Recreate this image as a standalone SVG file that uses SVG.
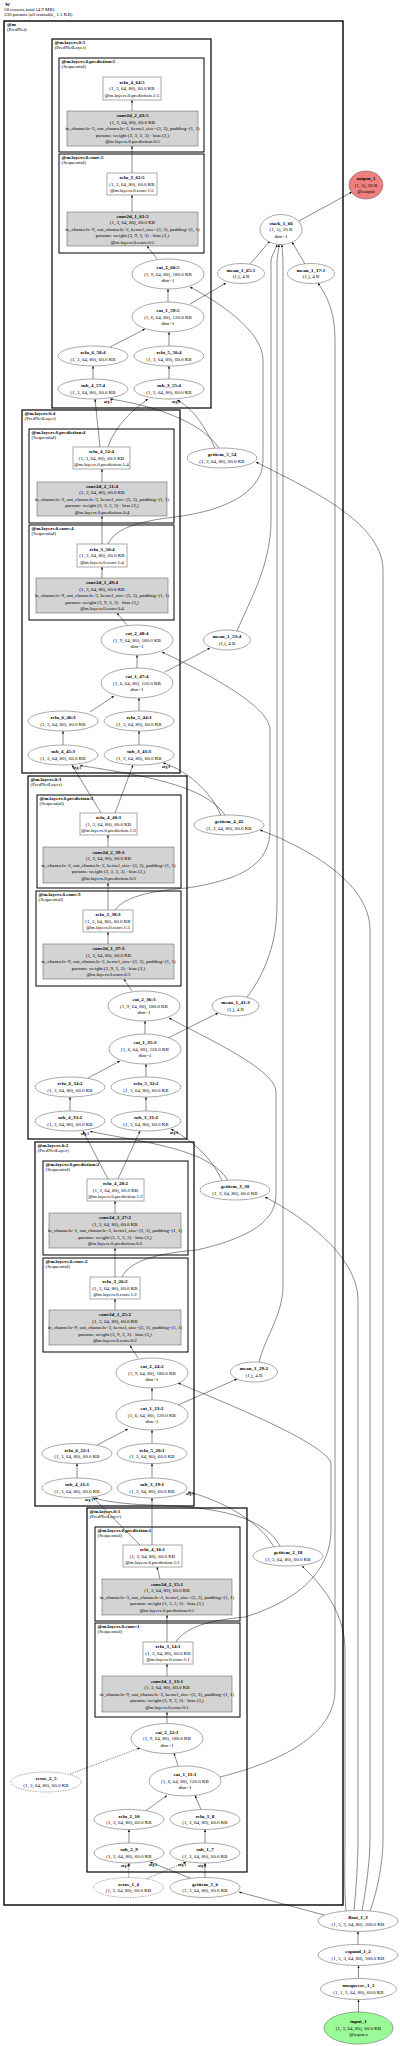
<svg xmlns="http://www.w3.org/2000/svg" width="400" height="2046" viewBox="0 0 400 2046">
<defs>
<marker id="a" viewBox="0 0 10 10" refX="10" refY="5" markerWidth="2.6" markerHeight="2.6" markerUnits="userSpaceOnUse" orient="auto"><path d="M0,1 L10,5 L0,9 z" fill="#000"/></marker>
<style>
text{font-family:"Liberation Serif",serif;font-size:5px;fill:#000}
.t{text-anchor:middle;dominant-baseline:central}
.b{font-weight:bold}
.c{dominant-baseline:central}
.cl{fill:none;stroke:#000}
.l1{stroke-width:1.4}.l2{stroke-width:1.2}.l3{stroke-width:1}
.n ellipse,.n rect{fill:#fff;stroke:#555;stroke-width:0.5}
.n.g rect{fill:#d3d3d3}
.n.d ellipse{stroke-dasharray:1.5,1}
.e path{fill:none;stroke:#000;stroke-width:0.45;marker-end:url(#a)}
.e path.d{stroke-dasharray:1.5,1}
.lb{font-size:3.6px;font-weight:bold;text-anchor:middle;dominant-baseline:central}
</style>
</defs>
<rect width="400" height="2046" fill="#fff"/>
<g id="header">
<text class="c b" x="5" y="4">W</text>
<text class="c" x="4" y="9.3">58 tensors total (4.9 MB)</text>
<text class="c" x="4" y="14">330 params (all trainable, 1.3 KB)</text>
</g>
<g id="clusters">
<rect class="cl l1" x="4" y="21" width="339" height="1884"/>
<text class="c b" x="7" y="24">@m</text><text class="c" x="7" y="29">(PredNet)</text>
<rect class="cl l2" x="52" y="39" width="159" height="369"/>
<text class="c b" x="54.5" y="42.5">@m.layers.0:5</text><text class="c" x="54.5" y="47.5">(PredNetLayer)</text>
<rect class="cl l3" x="59" y="58" width="145" height="94"/>
<text class="c b" x="61.5" y="61.5">@m.layers.0.prediction:5</text><text class="c" x="61.5" y="66.5">(Sequential)</text>
<rect class="cl l3" x="59" y="154" width="145" height="99"/>
<text class="c b" x="61.5" y="157.5">@m.layers.0.conv:5</text><text class="c" x="61.5" y="162.5">(Sequential)</text>
<rect class="cl l2" x="22" y="410" width="158" height="363"/>
<text class="c b" x="24.5" y="413.5">@m.layers.0:4</text><text class="c" x="24.5" y="418.5">(PredNetLayer)</text>
<rect class="cl l3" x="29" y="429" width="145" height="94"/>
<text class="c b" x="31.5" y="432.5">@m.layers.0.prediction:4</text><text class="c" x="31.5" y="437.5">(Sequential)</text>
<rect class="cl l3" x="29" y="525" width="145" height="95"/>
<text class="c b" x="31.5" y="528.5">@m.layers.0.conv:4</text><text class="c" x="31.5" y="533.5">(Sequential)</text>
<rect class="cl l2" x="28" y="776" width="159" height="363"/>
<text class="c b" x="30.5" y="779.5">@m.layers.0:3</text><text class="c" x="30.5" y="784.5">(PredNetLayer)</text>
<rect class="cl l3" x="37" y="795" width="144" height="93"/>
<text class="c b" x="39.5" y="798.5">@m.layers.0.prediction:3</text><text class="c" x="39.5" y="803.5">(Sequential)</text>
<rect class="cl l3" x="36" y="891" width="145" height="95"/>
<text class="c b" x="38.5" y="894.5">@m.layers.0.conv:3</text><text class="c" x="38.5" y="899.5">(Sequential)</text>
<rect class="cl l2" x="35" y="1142" width="159" height="364"/>
<text class="c b" x="37.5" y="1145.5">@m.layers.0:2</text><text class="c" x="37.5" y="1150.5">(PredNetLayer)</text>
<rect class="cl l3" x="43" y="1161" width="145" height="94"/>
<text class="c b" x="45.5" y="1164.5">@m.layers.0.prediction:2</text><text class="c" x="45.5" y="1169.5">(Sequential)</text>
<rect class="cl l3" x="43" y="1258" width="145" height="94"/>
<text class="c b" x="45.5" y="1261.5">@m.layers.0.conv:2</text><text class="c" x="45.5" y="1266.5">(Sequential)</text>
<rect class="cl l2" x="87" y="1508" width="160" height="364"/>
<text class="c b" x="89.5" y="1511.5">@m.layers.0:1</text><text class="c" x="89.5" y="1516.5">(PredNetLayer)</text>
<rect class="cl l3" x="95" y="1527" width="145" height="94"/>
<text class="c b" x="97.5" y="1530.5">@m.layers.0.prediction:1</text><text class="c" x="97.5" y="1535.5">(Sequential)</text>
<rect class="cl l3" x="95" y="1623" width="145" height="94"/>
<text class="c b" x="97.5" y="1626.5">@m.layers.0.conv:1</text><text class="c" x="97.5" y="1631.5">(Sequential)</text>
</g>
<g id="edges" class="e">
<path d="M358.5,2012 L358.5,1999.5"/>
<path d="M358.5,1978.5 L358.5,1965.5"/>
<path d="M358,1944.5 L358,1931.5"/>
<path d="M324,1915 L239,1892"/>
<path d="M346,1911 C344,1890 345,1860 345,1840 L345,1650 C345,1620 330,1592 302,1566"/>
<path d="M354,1910.5 C356,1890 358,1860 358,1840 L358,1300 C358,1255 300,1215 265,1197"/>
<path d="M362,1910.5 C366,1890 370,1860 370,1840 L370,930 C370,880 300,845 260,830"/>
<path d="M370,1911 C378,1890 383,1860 383,1840 L383,570 C383,520 300,485 256,462"/>
<path d="M205,1877.5 L205,1863"/>
<path d="M191,1878.5 L150,1862"/>
<path class="d" d="M128.5,1877.5 L129,1863"/>
<path class="d" d="M146,1879 L186,1862"/>
<path d="M205,1843 L205,1829.5"/>
<path d="M129,1843 L129,1829.5"/>
<path d="M146,1810.5 L167,1795.5"/>
<path d="M201,1809.5 L195,1795.5"/>
<path d="M178,1766 L174,1753"/>
<path class="d" d="M70,1774 L140,1748"/>
<path d="M220,1777 C280,1762 335,1735 335,1690 L335,340 C335,310 326,295 318,283"/>
<path d="M167,1723.5 L167,1712"/>
<path d="M167,1676 L167,1664"/>
<path d="M167,1642 L167,1615"/>
<path d="M160,1579 L157,1567"/>
<path d="M176,1642 C186,1626 212,1620 245,1617 C300,1600 331,1570 331,1530 L331,1462 C318,1440 230,1405 178,1383"/>
<path d="M152,1545 L152,1498"/>
<path d="M140,1545 L93,1497.5"/>
<path d="M274,1547 C260,1522 222,1500 188,1492"/>
<path d="M280,1546 C262,1512 200,1506 150,1505 C122,1504 104,1501 95,1498"/>
<path d="M152,1478 L152,1463.5"/>
<path d="M77,1478 L77,1463.5"/>
<path d="M97,1445 L128,1429"/>
<path d="M152,1443.5 L152,1430"/>
<path d="M152,1400 L152,1388"/>
<path d="M178,1405 L237,1379"/>
<path d="M259,1362 C266,1335 283,1315 283,1285 L283,262 C283,255 282,250 282,244.5"/>
<path d="M138,1358 L130,1345.5"/>
<path d="M115,1310 L115,1299"/>
<path d="M115,1277 L115,1248"/>
<path d="M115,1213 L115,1201"/>
<path d="M122,1277 C130,1260 160,1253 197,1250 C240,1240 276,1225 276,1195 L276,1092 C276,1070 210,1040 169,1018"/>
<path d="M118,1179 L140,1131"/>
<path d="M108,1179 L83,1131"/>
<path d="M222,1180.5 C212,1158 192,1140 171,1129"/>
<path d="M228,1180.5 C210,1150 150,1143 90,1131.5"/>
<path d="M146,1111 L146,1097"/>
<path d="M70,1111 L70,1097"/>
<path d="M88,1078 L120,1061"/>
<path d="M146,1077 L146,1064"/>
<path d="M145,1034 L145,1021"/>
<path d="M168,1038 L218,1013"/>
<path d="M247,997 C260,980 277,950 277,905 L277,262 C277,255 279,250 279,244.5"/>
<path d="M132,991 L124,979"/>
<path d="M108,944 L108,932"/>
<path d="M108,910 L108,883"/>
<path d="M108,847 L108,835"/>
<path d="M115,910 C125,895 160,890 187,888 C240,880 270,865 270,830 L270,730 C270,705 200,670 162,652"/>
<path d="M115,813 L133,765"/>
<path d="M101,813 L72,765"/>
<path d="M221,815.5 C210,790 186,770 163,763"/>
<path d="M225,815 C205,785 140,775 80,765.5"/>
<path d="M139,745 L139,731"/>
<path d="M63,745 L63,731"/>
<path d="M90,712 L114,696"/>
<path d="M139,711 L139,698"/>
<path d="M137,668 L137,655"/>
<path d="M165,672 L210,648"/>
<path d="M237,631 C250,600 271,565 271,520 L271,262 C271,255 276,250 277,244.5"/>
<path d="M127,625 L117,613"/>
<path d="M102,578 L102,567"/>
<path d="M102,544 L102,516"/>
<path d="M102,482 L102,469"/>
<path d="M108,544 C115,528 140,521 175,517 C230,510 263,490 263,460 L263,360 C263,330 215,300 190,287"/>
<path d="M108,447 C115,425 135,408 148,399"/>
<path d="M100,447 L95,399"/>
<path d="M215,448.5 C205,425 190,406 177,400"/>
<path d="M219,448 C200,420 150,405 110,399"/>
<path d="M169,379 L169,366"/>
<path d="M93,379 L93,366"/>
<path d="M110,347 L145,329"/>
<path d="M169,346 L169,332"/>
<path d="M168,302 L168,289"/>
<path d="M190,304 L226,283"/>
<path d="M157,259 L147,246"/>
<path d="M132,212 L132,195"/>
<path d="M132,173 L132,146"/>
<path d="M132,111 L132,100"/>
<path d="M250,264 L270,241"/>
<path d="M305,264 L292,242"/>
<path d="M299,221 L352,192"/>
<text class="lb" x="108" y="402">arg 1</text>
<text class="lb" x="176" y="402">arg 0</text>
<text class="lb" x="77" y="767.5">arg 1</text>
<text class="lb" x="166" y="766.5">arg 0</text>
<text class="lb" x="85" y="1133.5">arg 1</text>
<text class="lb" x="174" y="1132.5">arg 0</text>
<text class="lb" x="89" y="1499.5">arg 1</text>
<text class="lb" x="190" y="1493.5">arg 0</text>
<text class="lb" x="125" y="1866">arg 0</text>
<text class="lb" x="153" y="1864.5">arg 1</text>
<text class="lb" x="182" y="1864.5">arg 1</text>
<text class="lb" x="202" y="1866">arg 0</text>
</g>
<g id="n_output_1" class="n"><ellipse cx="366" cy="185" rx="17" ry="14" style="fill:#f08080"/><text class="t b" x="366" y="178.5">output_1</text><text class="t" x="366" y="185">(1, 5), 20 B</text><text class="t" x="366" y="191.5">@output</text></g>
<g id="n_stack_1_66" class="n"><ellipse cx="281" cy="229.5" rx="21" ry="15"/><text class="t b" x="281" y="223">stack_1_66</text><text class="t" x="281" y="229.5">(1, 5), 20 B</text><text class="t" x="281" y="236">dim=1</text></g>
<g id="n_relu_4_64_5" class="n"><rect x="103" y="77" width="58" height="23"/><text class="t b" x="132" y="82">relu_4_64:5</text><text class="t" x="132" y="88.5">(1, 3, 64, 80), 60.0 KB</text><text class="t" x="132" y="95">@m.layers.0.prediction.1:5</text></g>
<g id="n_conv2d_2_63_5" class="n g"><rect x="67" y="111" width="131" height="35"/><text class="t b" x="132.5" y="115.5">conv2d_2_63:5</text><text class="t" x="132.5" y="122">(1, 3, 64, 80), 60.0 KB</text><text class="t" x="132.5" y="128.5">in_channels=3, out_channels=3, kernel_size=(3, 3), padding=(1, 1)</text><text class="t" x="132.5" y="135">params: weight (3, 3, 3, 3) · bias (3,)</text><text class="t" x="132.5" y="141.5">@m.layers.0.prediction.0:5</text></g>
<g id="n_relu_3_62_5" class="n"><rect x="107" y="173" width="50" height="22"/><text class="t b" x="132" y="177.5">relu_3_62:5</text><text class="t" x="132" y="184">(1, 3, 64, 80), 60.0 KB</text><text class="t" x="132" y="190.5">@m.layers.0.conv.1:5</text></g>
<g id="n_conv2d_1_61_5" class="n g"><rect x="67" y="212" width="131" height="34"/><text class="t b" x="132.5" y="216">conv2d_1_61:5</text><text class="t" x="132.5" y="222.5">(1, 3, 64, 80), 60.0 KB</text><text class="t" x="132.5" y="229">in_channels=9, out_channels=3, kernel_size=(3, 3), padding=(1, 1)</text><text class="t" x="132.5" y="235.5">params: weight (3, 9, 3, 3) · bias (3,)</text><text class="t" x="132.5" y="242">@m.layers.0.conv.0:5</text></g>
<g id="n_cat_2_60_5" class="n"><ellipse cx="168" cy="274" rx="36" ry="15"/><text class="t b" x="168" y="267.5">cat_2_60:5</text><text class="t" x="168" y="274">(1, 9, 64, 80), 180.0 KB</text><text class="t" x="168" y="280.5">dim=1</text></g>
<g id="n_mean_1_65_5" class="n"><ellipse cx="241" cy="273.5" rx="23.5" ry="10"/><text class="t b" x="241" y="270.3">mean_1_65:5</text><text class="t" x="241" y="276.8">(1,), 4 B</text></g>
<g id="n_mean_1_17_1" class="n"><ellipse cx="311" cy="273.5" rx="23.5" ry="10"/><text class="t b" x="311" y="270.3">mean_1_17:1</text><text class="t" x="311" y="276.8">(1,), 4 B</text></g>
<g id="n_cat_1_59_5" class="n"><ellipse cx="168" cy="317" rx="36" ry="15"/><text class="t b" x="168" y="310.5">cat_1_59:5</text><text class="t" x="168" y="317">(1, 6, 64, 80), 120.0 KB</text><text class="t" x="168" y="323.5">dim=1</text></g>
<g id="n_relu_6_58_4" class="n"><ellipse cx="93" cy="356" rx="35" ry="10"/><text class="t b" x="93" y="352.8">relu_6_58:4</text><text class="t" x="93" y="359.3">(1, 3, 64, 80), 60.0 KB</text></g>
<g id="n_relu_5_56_4" class="n"><ellipse cx="169" cy="356" rx="35" ry="10"/><text class="t b" x="169" y="352.8">relu_5_56:4</text><text class="t" x="169" y="359.3">(1, 3, 64, 80), 60.0 KB</text></g>
<g id="n_sub_4_57_4" class="n"><ellipse cx="93" cy="389" rx="35" ry="10"/><text class="t b" x="93" y="385.8">sub_4_57:4</text><text class="t" x="93" y="392.3">(1, 3, 64, 80), 60.0 KB</text></g>
<g id="n_sub_3_55_4" class="n"><ellipse cx="169" cy="389" rx="35" ry="10"/><text class="t b" x="169" y="385.8">sub_3_55:4</text><text class="t" x="169" y="392.3">(1, 3, 64, 80), 60.0 KB</text></g>
<g id="n_getitem_5_54" class="n"><ellipse cx="222" cy="458" rx="35" ry="10"/><text class="t b" x="222" y="454.8">getitem_5_54</text><text class="t" x="222" y="461.3">(1, 3, 64, 80), 60.0 KB</text></g>
<g id="n_relu_4_52_4" class="n"><rect x="73" y="447" width="57" height="22"/><text class="t b" x="101.5" y="451.5">relu_4_52:4</text><text class="t" x="101.5" y="458">(1, 3, 64, 80), 60.0 KB</text><text class="t" x="101.5" y="464.5">@m.layers.0.prediction.1:4</text></g>
<g id="n_conv2d_2_51_4" class="n g"><rect x="37" y="482" width="130" height="34"/><text class="t b" x="102" y="486">conv2d_2_51:4</text><text class="t" x="102" y="492.5">(1, 3, 64, 80), 60.0 KB</text><text class="t" x="102" y="499">in_channels=3, out_channels=3, kernel_size=(3, 3), padding=(1, 1)</text><text class="t" x="102" y="505.5">params: weight (3, 3, 3, 3) · bias (3,)</text><text class="t" x="102" y="512">@m.layers.0.prediction.0:4</text></g>
<g id="n_relu_3_50_4" class="n"><rect x="77" y="544" width="50" height="23"/><text class="t b" x="102" y="549">relu_3_50:4</text><text class="t" x="102" y="555.5">(1, 3, 64, 80), 60.0 KB</text><text class="t" x="102" y="562">@m.layers.0.conv.1:4</text></g>
<g id="n_conv2d_1_49_4" class="n g"><rect x="36" y="578" width="132" height="35"/><text class="t b" x="102" y="582.5">conv2d_1_49:4</text><text class="t" x="102" y="589">(1, 3, 64, 80), 60.0 KB</text><text class="t" x="102" y="595.5">in_channels=9, out_channels=3, kernel_size=(3, 3), padding=(1, 1)</text><text class="t" x="102" y="602">params: weight (3, 9, 3, 3) · bias (3,)</text><text class="t" x="102" y="608.5">@m.layers.0.conv.0:4</text></g>
<g id="n_cat_2_48_4" class="n"><ellipse cx="137" cy="640" rx="36" ry="15"/><text class="t b" x="137" y="633.5">cat_2_48:4</text><text class="t" x="137" y="640">(1, 9, 64, 80), 180.0 KB</text><text class="t" x="137" y="646.5">dim=1</text></g>
<g id="n_mean_1_53_4" class="n"><ellipse cx="227" cy="640" rx="23.5" ry="10"/><text class="t b" x="227" y="636.8">mean_1_53:4</text><text class="t" x="227" y="643.3">(1,), 4 B</text></g>
<g id="n_cat_1_47_4" class="n"><ellipse cx="137" cy="683" rx="36" ry="15"/><text class="t b" x="137" y="676.5">cat_1_47:4</text><text class="t" x="137" y="683">(1, 6, 64, 80), 120.0 KB</text><text class="t" x="137" y="689.5">dim=1</text></g>
<g id="n_relu_6_46_3" class="n"><ellipse cx="63" cy="721" rx="35" ry="10"/><text class="t b" x="63" y="717.8">relu_6_46:3</text><text class="t" x="63" y="724.3">(1, 3, 64, 80), 60.0 KB</text></g>
<g id="n_relu_5_44_3" class="n"><ellipse cx="139" cy="721" rx="35" ry="10"/><text class="t b" x="139" y="717.8">relu_5_44:3</text><text class="t" x="139" y="724.3">(1, 3, 64, 80), 60.0 KB</text></g>
<g id="n_sub_4_45_3" class="n"><ellipse cx="63" cy="755" rx="35" ry="10"/><text class="t b" x="63" y="751.8">sub_4_45:3</text><text class="t" x="63" y="758.3">(1, 3, 64, 80), 60.0 KB</text></g>
<g id="n_sub_3_43_3" class="n"><ellipse cx="139" cy="755" rx="35" ry="10"/><text class="t b" x="139" y="751.8">sub_3_43:3</text><text class="t" x="139" y="758.3">(1, 3, 64, 80), 60.0 KB</text></g>
<g id="n_getitem_4_42" class="n"><ellipse cx="229" cy="825" rx="35" ry="10"/><text class="t b" x="229" y="821.8">getitem_4_42</text><text class="t" x="229" y="828.3">(1, 3, 64, 80), 60.0 KB</text></g>
<g id="n_relu_4_40_3" class="n"><rect x="80" y="813" width="57" height="22"/><text class="t b" x="108.5" y="817.5">relu_4_40:3</text><text class="t" x="108.5" y="824">(1, 3, 64, 80), 60.0 KB</text><text class="t" x="108.5" y="830.5">@m.layers.0.prediction.1:3</text></g>
<g id="n_conv2d_2_39_3" class="n g"><rect x="43" y="847" width="131" height="36"/><text class="t b" x="108.5" y="852">conv2d_2_39:3</text><text class="t" x="108.5" y="858.5">(1, 3, 64, 80), 60.0 KB</text><text class="t" x="108.5" y="865">in_channels=3, out_channels=3, kernel_size=(3, 3), padding=(1, 1)</text><text class="t" x="108.5" y="871.5">params: weight (3, 3, 3, 3) · bias (3,)</text><text class="t" x="108.5" y="878">@m.layers.0.prediction.0:3</text></g>
<g id="n_relu_3_38_3" class="n"><rect x="83" y="910" width="50" height="22"/><text class="t b" x="108" y="914.5">relu_3_38:3</text><text class="t" x="108" y="921">(1, 3, 64, 80), 60.0 KB</text><text class="t" x="108" y="927.5">@m.layers.0.conv.1:3</text></g>
<g id="n_conv2d_1_37_3" class="n g"><rect x="43" y="944" width="131" height="35"/><text class="t b" x="108.5" y="948.5">conv2d_1_37:3</text><text class="t" x="108.5" y="955">(1, 3, 64, 80), 60.0 KB</text><text class="t" x="108.5" y="961.5">in_channels=9, out_channels=3, kernel_size=(3, 3), padding=(1, 1)</text><text class="t" x="108.5" y="968">params: weight (3, 9, 3, 3) · bias (3,)</text><text class="t" x="108.5" y="974.5">@m.layers.0.conv.0:3</text></g>
<g id="n_cat_2_36_3" class="n"><ellipse cx="144" cy="1006" rx="36" ry="15"/><text class="t b" x="144" y="999.5">cat_2_36:3</text><text class="t" x="144" y="1006">(1, 9, 64, 80), 180.0 KB</text><text class="t" x="144" y="1012.5">dim=1</text></g>
<g id="n_mean_1_41_3" class="n"><ellipse cx="235.5" cy="1006" rx="23.5" ry="10"/><text class="t b" x="235.5" y="1002.8">mean_1_41:3</text><text class="t" x="235.5" y="1009.3">(1,), 4 B</text></g>
<g id="n_cat_1_35_3" class="n"><ellipse cx="145" cy="1049" rx="36" ry="15"/><text class="t b" x="145" y="1042.5">cat_1_35:3</text><text class="t" x="145" y="1049">(1, 6, 64, 80), 120.0 KB</text><text class="t" x="145" y="1055.5">dim=1</text></g>
<g id="n_relu_6_34_2" class="n"><ellipse cx="70" cy="1087" rx="35" ry="10"/><text class="t b" x="70" y="1083.8">relu_6_34:2</text><text class="t" x="70" y="1090.3">(1, 3, 64, 80), 60.0 KB</text></g>
<g id="n_relu_5_32_2" class="n"><ellipse cx="146" cy="1087" rx="35" ry="10"/><text class="t b" x="146" y="1083.8">relu_5_32:2</text><text class="t" x="146" y="1090.3">(1, 3, 64, 80), 60.0 KB</text></g>
<g id="n_sub_4_33_2" class="n"><ellipse cx="70" cy="1121" rx="35" ry="10"/><text class="t b" x="70" y="1117.8">sub_4_33:2</text><text class="t" x="70" y="1124.3">(1, 3, 64, 80), 60.0 KB</text></g>
<g id="n_sub_3_31_2" class="n"><ellipse cx="146" cy="1121" rx="35" ry="10"/><text class="t b" x="146" y="1117.8">sub_3_31:2</text><text class="t" x="146" y="1124.3">(1, 3, 64, 80), 60.0 KB</text></g>
<g id="n_getitem_3_30" class="n"><ellipse cx="235" cy="1190" rx="35" ry="10"/><text class="t b" x="235" y="1186.8">getitem_3_30</text><text class="t" x="235" y="1193.3">(1, 3, 64, 80), 60.0 KB</text></g>
<g id="n_relu_4_28_2" class="n"><rect x="87" y="1179" width="57" height="22"/><text class="t b" x="115.5" y="1183.5">relu_4_28:2</text><text class="t" x="115.5" y="1190">(1, 3, 64, 80), 60.0 KB</text><text class="t" x="115.5" y="1196.5">@m.layers.0.prediction.1:2</text></g>
<g id="n_conv2d_2_27_2" class="n g"><rect x="49" y="1213" width="132" height="35"/><text class="t b" x="115" y="1217.5">conv2d_2_27:2</text><text class="t" x="115" y="1224">(1, 3, 64, 80), 60.0 KB</text><text class="t" x="115" y="1230.5">in_channels=3, out_channels=3, kernel_size=(3, 3), padding=(1, 1)</text><text class="t" x="115" y="1237">params: weight (3, 3, 3, 3) · bias (3,)</text><text class="t" x="115" y="1243.5">@m.layers.0.prediction.0:2</text></g>
<g id="n_relu_3_26_2" class="n"><rect x="90" y="1277" width="50" height="22"/><text class="t b" x="115" y="1281.5">relu_3_26:2</text><text class="t" x="115" y="1288">(1, 3, 64, 80), 60.0 KB</text><text class="t" x="115" y="1294.5">@m.layers.0.conv.1:2</text></g>
<g id="n_conv2d_1_25_2" class="n g"><rect x="49" y="1310" width="132" height="35"/><text class="t b" x="115" y="1314.5">conv2d_1_25:2</text><text class="t" x="115" y="1321">(1, 3, 64, 80), 60.0 KB</text><text class="t" x="115" y="1327.5">in_channels=9, out_channels=3, kernel_size=(3, 3), padding=(1, 1)</text><text class="t" x="115" y="1334">params: weight (3, 9, 3, 3) · bias (3,)</text><text class="t" x="115" y="1340.5">@m.layers.0.conv.0:2</text></g>
<g id="n_cat_2_24_2" class="n"><ellipse cx="152" cy="1373" rx="36" ry="15"/><text class="t b" x="152" y="1366.5">cat_2_24:2</text><text class="t" x="152" y="1373">(1, 9, 64, 80), 180.0 KB</text><text class="t" x="152" y="1379.5">dim=1</text></g>
<g id="n_mean_1_29_2" class="n"><ellipse cx="254" cy="1372" rx="23.5" ry="10"/><text class="t b" x="254" y="1368.8">mean_1_29:2</text><text class="t" x="254" y="1375.3">(1,), 4 B</text></g>
<g id="n_cat_1_23_2" class="n"><ellipse cx="152" cy="1415" rx="36" ry="15"/><text class="t b" x="152" y="1408.5">cat_1_23:2</text><text class="t" x="152" y="1415">(1, 6, 64, 80), 120.0 KB</text><text class="t" x="152" y="1421.5">dim=1</text></g>
<g id="n_relu_6_22_1" class="n"><ellipse cx="77" cy="1453.5" rx="35" ry="10"/><text class="t b" x="77" y="1450.3">relu_6_22:1</text><text class="t" x="77" y="1456.8">(1, 3, 64, 80), 60.0 KB</text></g>
<g id="n_relu_5_20_1" class="n"><ellipse cx="152" cy="1453.5" rx="35" ry="10"/><text class="t b" x="152" y="1450.3">relu_5_20:1</text><text class="t" x="152" y="1456.8">(1, 3, 64, 80), 60.0 KB</text></g>
<g id="n_sub_4_21_1" class="n"><ellipse cx="77" cy="1488" rx="35" ry="10"/><text class="t b" x="77" y="1484.8">sub_4_21:1</text><text class="t" x="77" y="1491.3">(1, 3, 64, 80), 60.0 KB</text></g>
<g id="n_sub_3_19_1" class="n"><ellipse cx="152" cy="1488" rx="35" ry="10"/><text class="t b" x="152" y="1484.8">sub_3_19:1</text><text class="t" x="152" y="1491.3">(1, 3, 64, 80), 60.0 KB</text></g>
<g id="n_getitem_2_18" class="n"><ellipse cx="288" cy="1556" rx="35" ry="10"/><text class="t b" x="288" y="1552.8">getitem_2_18</text><text class="t" x="288" y="1559.3">(1, 3, 64, 80), 60.0 KB</text></g>
<g id="n_relu_4_16_1" class="n"><rect x="123" y="1545" width="59" height="22"/><text class="t b" x="152.5" y="1549.5">relu_4_16:1</text><text class="t" x="152.5" y="1556">(1, 3, 64, 80), 60.0 KB</text><text class="t" x="152.5" y="1562.5">@m.layers.0.prediction.1:1</text></g>
<g id="n_conv2d_2_15_1" class="n g"><rect x="102" y="1579" width="130" height="36"/><text class="t b" x="167" y="1584">conv2d_2_15:1</text><text class="t" x="167" y="1590.5">(1, 3, 64, 80), 60.0 KB</text><text class="t" x="167" y="1597">in_channels=3, out_channels=3, kernel_size=(3, 3), padding=(1, 1)</text><text class="t" x="167" y="1603.5">params: weight (3, 3, 3, 3) · bias (3,)</text><text class="t" x="167" y="1610">@m.layers.0.prediction.0:1</text></g>
<g id="n_relu_3_14_1" class="n"><rect x="143" y="1642" width="50" height="22"/><text class="t b" x="168" y="1646.5">relu_3_14:1</text><text class="t" x="168" y="1653">(1, 3, 64, 80), 60.0 KB</text><text class="t" x="168" y="1659.5">@m.layers.0.conv.1:1</text></g>
<g id="n_conv2d_1_13_1" class="n g"><rect x="102" y="1676" width="130" height="36"/><text class="t b" x="167" y="1681">conv2d_1_13:1</text><text class="t" x="167" y="1687.5">(1, 3, 64, 80), 60.0 KB</text><text class="t" x="167" y="1694">in_channels=9, out_channels=3, kernel_size=(3, 3), padding=(1, 1)</text><text class="t" x="167" y="1700.5">params: weight (3, 9, 3, 3) · bias (3,)</text><text class="t" x="167" y="1707">@m.layers.0.conv.0:1</text></g>
<g id="n_cat_2_12_1" class="n"><ellipse cx="167" cy="1738.5" rx="36" ry="15"/><text class="t b" x="167" y="1732">cat_2_12:1</text><text class="t" x="167" y="1738.5">(1, 9, 64, 80), 180.0 KB</text><text class="t" x="167" y="1745">dim=1</text></g>
<g id="n_zeros_2_5" class="n d"><ellipse cx="46" cy="1782" rx="35" ry="10"/><text class="t b" x="46" y="1778.8">zeros_2_5</text><text class="t" x="46" y="1785.3">(1, 3, 64, 80), 60.0 KB</text></g>
<g id="n_cat_1_11_1" class="n"><ellipse cx="185" cy="1781" rx="36" ry="15"/><text class="t b" x="185" y="1774.5">cat_1_11:1</text><text class="t" x="185" y="1781">(1, 6, 64, 80), 120.0 KB</text><text class="t" x="185" y="1787.5">dim=1</text></g>
<g id="n_relu_2_10" class="n"><ellipse cx="129" cy="1819.5" rx="35" ry="10"/><text class="t b" x="129" y="1816.3">relu_2_10</text><text class="t" x="129" y="1822.8">(1, 3, 64, 80), 60.0 KB</text></g>
<g id="n_relu_1_8" class="n"><ellipse cx="205" cy="1819.5" rx="35" ry="10"/><text class="t b" x="205" y="1816.3">relu_1_8</text><text class="t" x="205" y="1822.8">(1, 3, 64, 80), 60.0 KB</text></g>
<g id="n_sub_2_9" class="n"><ellipse cx="129" cy="1853" rx="35" ry="10"/><text class="t b" x="129" y="1849.8">sub_2_9</text><text class="t" x="129" y="1856.3">(1, 3, 64, 80), 60.0 KB</text></g>
<g id="n_sub_1_7" class="n"><ellipse cx="205" cy="1853" rx="35" ry="10"/><text class="t b" x="205" y="1849.8">sub_1_7</text><text class="t" x="205" y="1856.3">(1, 3, 64, 80), 60.0 KB</text></g>
<g id="n_zeros_1_4" class="n d"><ellipse cx="128.5" cy="1887.5" rx="35" ry="10"/><text class="t b" x="128.5" y="1884.3">zeros_1_4</text><text class="t" x="128.5" y="1890.8">(1, 3, 64, 80), 60.0 KB</text></g>
<g id="n_getitem_1_6" class="n"><ellipse cx="205" cy="1887.5" rx="35" ry="10"/><text class="t b" x="205" y="1884.3">getitem_1_6</text><text class="t" x="205" y="1890.8">(1, 3, 64, 80), 60.0 KB</text></g>
<g id="n_float_1_3" class="n"><ellipse cx="358" cy="1921" rx="40" ry="10.5"/><text class="t b" x="358" y="1917.8">float_1_3</text><text class="t" x="358" y="1924.3">(1, 5, 3, 64, 80), 300.0 KB</text></g>
<g id="n_expand_1_2" class="n"><ellipse cx="358" cy="1955" rx="40" ry="10.5"/><text class="t b" x="358" y="1951.8">expand_1_2</text><text class="t" x="358" y="1958.3">(1, 5, 3, 64, 80), 300.0 KB</text></g>
<g id="n_unsqueeze_1_1" class="n"><ellipse cx="358.5" cy="1989" rx="38" ry="10.5"/><text class="t b" x="358.5" y="1985.8">unsqueeze_1_1</text><text class="t" x="358.5" y="1992.3">(1, 1, 3, 64, 80), 60.0 KB</text></g>
<g id="n_input_1" class="n"><ellipse cx="358.5" cy="2028" rx="34.5" ry="16" style="fill:#98fb98"/><text class="t b" x="358.5" y="2021.5">input_1</text><text class="t" x="358.5" y="2028">(1, 3, 64, 80), 60.0 KB</text><text class="t" x="358.5" y="2034.5">@input.x</text></g>
</svg>
